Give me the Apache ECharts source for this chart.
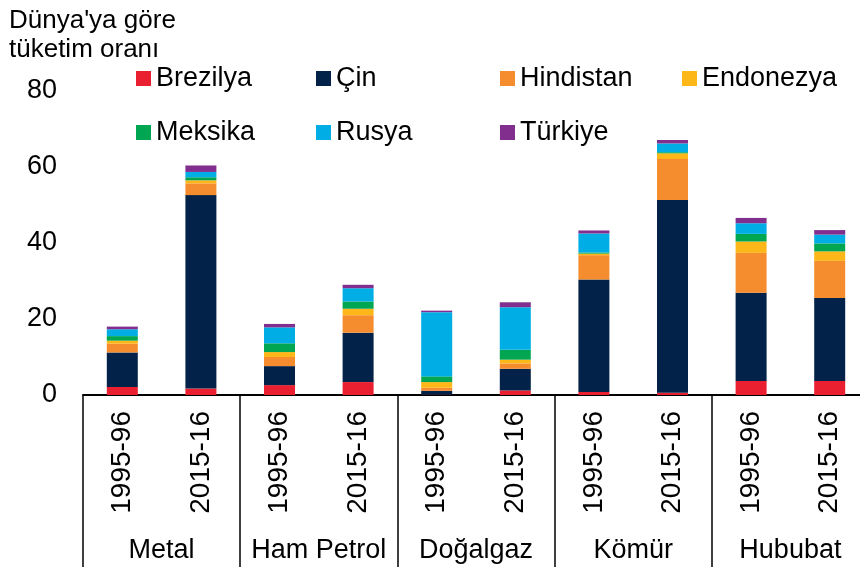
<!DOCTYPE html>
<html>
<head>
<meta charset="utf-8">
<script src="https://cdn.jsdelivr.net/npm/echarts@6/dist/echarts.min.js"></script>
<style>
  html, body { margin: 0; padding: 0; background: #fff; }
  #chart { width: 860px; height: 567px; }
</style>
</head>
<body>
<div id="chart"></div>
<script>
var years = ['1995-96', '2015-16', '1995-96', '2015-16', '1995-96', '2015-16', '1995-96', '2015-16', '1995-96', '2015-16'];
var groups = ['Metal', 'Ham Petrol', 'Doğalgaz', 'Kömür', 'Hububat'];
var countries = ['Brezilya', 'Çin', 'Hindistan', 'Endonezya', 'Meksika', 'Rusya', 'Türkiye'];
var colors = ['#EA1F30', '#02224A', '#F58D2F', '#FDB718', '#00A651', '#00AEE5', '#822E8F'];

// each array: one value per bar, in the order of years
var brezilya  = [2.1, 1.7, 2.6, 3.4, 0.1, 1.2, 0.8, 0.6, 3.7, 3.7];
var cin       = [9.1, 50.9, 5.0, 13.0, 1.0, 5.7, 29.6, 50.7, 23.2, 21.8];
var hindistan = [2.3, 3.1, 2.4, 4.6, 0.8, 1.4, 6.4, 10.8, 10.5, 9.8];
var endonezya = [0.8, 0.8, 1.3, 1.7, 1.5, 1.0, 0.4, 1.5, 3.0, 2.5];
var meksika   = [1.2, 0.8, 2.3, 1.9, 1.5, 2.6, 0.3, 0.3, 2.0, 2.1];
var rusya     = [1.8, 1.4, 4.2, 3.5, 16.9, 11.2, 5.0, 2.3, 2.8, 2.3];
var turkiye   = [0.7, 1.7, 0.9, 0.9, 0.4, 1.3, 0.8, 0.9, 1.4, 1.2];

var values = [brezilya, cin, hindistan, endonezya, meksika, rusya, turkiye];
var font = 'Liberation Sans, Arial, sans-serif';

var chart = echarts.init(document.getElementById('chart'));

var series = countries.map(function (name, i) {
    return {
        name: name,
        type: 'bar',
        stack: 'total',
        barWidth: 31,
        itemStyle: { color: colors[i] },
        data: values[i]
    };
});

// legend laid out as a 4-column grid, one legend per entry
var legendLeft = [136, 316, 500, 682];
var legends = countries.map(function (name, i) {
    return {
        data: [name],
        left: legendLeft[i % 4],
        top: i < 4 ? 65 : 119,
        padding: 0,
        itemWidth: 15,
        itemHeight: 15,
        icon: 'rect',
        textStyle: { fontFamily: font, fontSize: 27, color: '#000' }
    };
});

var option = {
    animation: false,
    title: {
        text: "Dünya'ya göre\ntüketim oranı",
        left: 4,
        top: 1,
        textStyle: { fontFamily: font, fontSize: 26, fontWeight: 'normal', color: '#000', lineHeight: 29 }
    },
    legend: legends,
    // the last band runs past the right edge of the picture
    grid: { left: 83, right: -9, top: 91, bottom: 172, outerBoundsMode: 'none' },
    xAxis: [
        {
            type: 'category',
            data: years,
            axisLine: { lineStyle: { color: '#000', width: 2 } },
            axisTick: { show: false },
            axisLabel: { interval: 0, rotate: 90, margin: 16, fontFamily: font, fontSize: 28, color: '#000' }
        },
        {
            type: 'category',
            data: groups,
            position: 'bottom',
            axisLine: { show: false },
            axisTick: { show: true, interval: 0, length: 175, lineStyle: { color: '#000', width: 1.5 } },
            axisLabel: { interval: 0, margin: 142, fontFamily: font, fontSize: 27, color: '#000' }
        }
    ],
    yAxis: {
        type: 'value',
        min: 0,
        max: 80,
        interval: 20,
        axisLine: { show: false },
        axisTick: { show: false },
        splitLine: { show: false },
        axisLabel: { margin: 26, fontFamily: font, fontSize: 27, color: '#000' }
    },
    series: series
};

chart.setOption(option);
</script>
</body>
</html>
